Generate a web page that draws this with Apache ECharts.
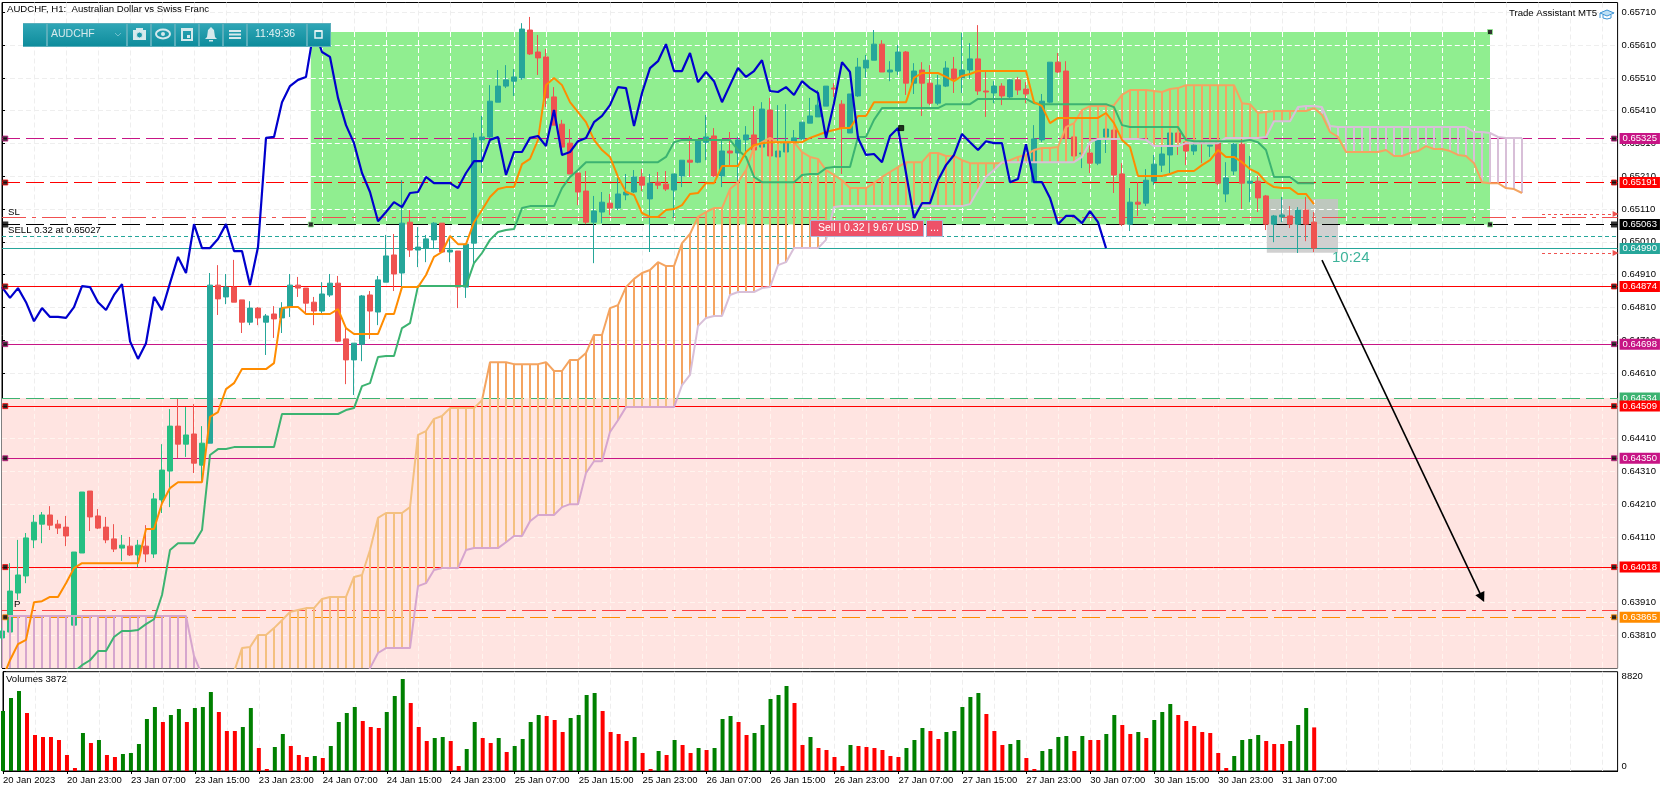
<!DOCTYPE html>
<html>
<head>
<meta charset="utf-8">
<style>html,body{margin:0;padding:0;background:#fff}#c{width:1670px;height:792px}</style>
<script src="https://cdn.jsdelivr.net/npm/echarts@6/dist/echarts.min.js"></script>
</head>
<body>
<div id="c"></div>
<script>
// Prices are kept in points (1 point = 0.00001)
const openPts=[63802,63820,63939,63991,64101,64149,64177,64149,64140,63841,
64061,64250,64174,64140,64104,64076,64082,64055,64082,64058,
64223,64311,64448,64393,64424,64329,64396,64878,64842,64872,
64833,64765,64808,64765,64790,64778,64811,64878,64869,64826,
64799,64848,64884,64714,64650,64698,64848,64796,64887,64970,
64915,65070,64985,64991,65016,65067,64979,64982,64872,65006,
65321,65330,65436,65485,65500,65510,65656,65589,65574,65452,
65369,65311,65220,65165,65070,65101,65128,65113,65153,65162,
65208,65141,65192,65186,65168,65211,65259,65253,65314,65333,
65211,65287,65281,65321,65336,65299,65412,65269,65284,65314,
65324,65372,65391,65424,65479,65430,65342,65455,65540,65564,
65613,65528,65531,65589,65494,65534,65494,65433,65485,65537,
65510,65534,65568,65470,65464,65485,65452,65504,65476,65192,
65321,65436,65558,65531,65330,65278,65281,65250,65330,65351,
65217,65064,65131,65128,65195,65244,65275,65342,65314,65287,
65314,65302,65314,65156,65226,65308,65189,65195,65150,65064,
65086,65089,65064,65107,65070];
const closePts=[63823,63945,63994,64107,64155,64177,64146,64137,64113,64064,
64247,64171,64137,64101,64073,64085,64055,64085,64058,64226,
64314,64448,64393,64421,64335,64396,64878,64836,64872,64826,
64765,64808,64778,64784,64775,64808,64878,64869,64823,64799,
64851,64884,64707,64650,64701,64845,64799,64894,64967,64912,
65067,64985,64994,65019,65067,64979,64985,64872,65003,65327,
65330,65439,65485,65504,65513,65659,65583,65571,65449,65366,
65299,65217,65162,65070,65104,65131,65113,65156,65162,65208,
65183,65189,65183,65171,65217,65259,65253,65321,65330,65211,
65287,65281,65321,65336,65290,65415,65272,65287,65314,65327,
65375,65394,65427,65485,65476,65357,65461,65543,65564,65613,
65528,65534,65589,65494,65531,65494,65433,65488,65540,65507,
65534,65568,65470,65467,65485,65455,65504,65473,65461,65324,
65439,65558,65528,65327,65272,65281,65250,65321,65354,65214,
65064,65131,65125,65198,65247,65278,65342,65314,65287,65305,
65311,65305,65189,65205,65308,65189,65195,65144,65064,65089,
65092,65064,65107,65064,64991];
const lowPts=[63796,63820,63918,63969,64076,64091,64131,64119,64082,63811,
64061,64128,64134,64091,64064,64037,64052,64018,64033,64046,
64183,64201,64351,64354,64305,64277,64396,64787,64820,64826,
64732,64756,64756,64665,64717,64732,64781,64842,64790,64756,
64790,64842,64704,64576,64543,64646,64714,64756,64887,64860,
64872,64964,64933,64948,64988,64979,64948,64808,64839,64945,
65220,65327,65436,65479,65455,65504,65580,65519,65421,65366,
65275,65217,65122,65064,64945,65067,65092,65107,65137,65159,
65165,64979,65171,65165,65083,65177,65208,65250,65259,65208,
65177,65244,65192,65281,65244,65299,65272,65269,65284,65314,
65321,65372,65391,65424,65452,65217,65342,65452,65510,65564,
65528,65500,65519,65458,65461,65394,65427,65427,65482,65464,
65464,65507,65458,65391,65433,65427,65449,65458,65433,65189,
65314,65433,65525,65321,65269,65235,65220,65244,65281,65159,
65058,65043,65089,65119,65183,65223,65220,65275,65244,65275,
65250,65269,65183,65131,65214,65110,65131,65101,65046,65009,
65070,65052,64976,65012,64979];
const highPts=[63832,64030,64101,64122,64177,64186,64204,64162,64174,64064,
64247,64250,64195,64171,64149,64116,64110,64101,64146,64244,
64393,64500,64531,64506,64515,64448,64915,64939,64912,64955,
64833,64829,64811,64790,64814,64826,64912,64903,64869,64842,
64887,64912,64906,64750,64701,64848,64860,64906,65031,65034,
65198,65107,65055,65031,65070,65067,65025,64982,65003,65342,
65394,65488,65534,65549,65537,65677,65696,65641,65598,65482,
65382,65354,65220,65226,65150,65162,65156,65205,65217,65229,
65232,65217,65223,65226,65217,65259,65333,65321,65397,65357,
65321,65345,65330,65363,65424,65436,65449,65427,65430,65351,
65375,65449,65473,65485,65494,65442,65461,65571,65580,65656,
65625,65561,65610,65592,65555,65558,65549,65519,65561,65574,
65647,65616,65671,65531,65500,65494,65507,65513,65497,65366,
65461,65558,65586,65561,65357,65281,65321,65330,65354,65366,
65250,65174,65192,65232,65275,65305,65342,65342,65314,65321,
65314,65305,65321,65253,65311,65327,65272,65211,65153,65092,
65147,65119,65116,65147,65101];
const volumes=[5328,6482,7104,5150,3197,3019,3019,2753,1421,266,
3374,2486,2753,1421,1243,1510,1598,2398,4618,5683,
4351,4973,5506,4351,5594,5683,7015,5239,3552,3552,
3907,5594,2042,178,2131,3286,2220,1421,1243,1332,
1154,2220,4351,5150,5683,4440,3907,3818,5239,6660,
8170,6038,3907,2664,2930,3019,2664,444,1954,4351,
2930,2486,2930,1687,2220,2842,4351,4973,4884,4529,
3463,4706,4973,6749,6926,5328,3463,3286,2664,3019,
1598,178,1776,1421,2753,2309,1598,2042,1865,2042,
4618,4884,4351,3197,3374,4085,6394,6749,7548,6038,
2309,3019,2042,1865,1243,444,2309,2220,2131,2042,
1865,1332,1243,2042,2753,3818,3552,2842,3463,3552,
5683,6571,6926,5062,3552,2309,2398,2753,1154,178,
1776,1954,3019,3108,1776,3108,2753,2753,3286,4973,
4085,3286,3463,2930,4529,5239,5950,4973,4440,3996,
3463,3374,1598,266,1332,2753,2842,3197,2664,2398,
2398,2664,4085,5594,3872];
const tenkan=[63674,63734,63783,63796,63911,63914,63927,63927,63969,64015,
64030,64030,64030,64030,64030,64030,64030,64030,64134,64134,
64213,64259,64277,64277,64277,64277,64476,64491,64561,64579,
64622,64622,64622,64622,64640,64808,64811,64811,64790,64790,
64790,64790,64805,64747,64729,64729,64729,64729,64790,64790,
64872,64872,64872,64909,64964,64979,65028,65003,65003,65070,
65107,65147,65171,65177,65177,65247,65263,65321,65488,65510,
65488,65436,65406,65375,65321,65290,65269,65208,65162,65153,
65098,65086,65086,65107,65110,65122,65156,65159,65189,65189,
65241,65241,65241,65284,65305,65311,65314,65314,65314,65314,
65314,65327,65336,65345,65351,65357,65357,65394,65394,65436,
65436,65436,65436,65436,65510,65525,65525,65525,65513,65500,
65516,65522,65531,65531,65531,65531,65531,65531,65531,65436,
65424,65372,65388,65388,65388,65388,65388,65388,65403,65372,
65321,65299,65211,65211,65211,65211,65217,65226,65226,65226,
65244,65259,65290,65269,65269,65253,65232,65220,65192,65177,
65174,65174,65156,65156,65125];
const kijun=[63650,63650,63650,63650,63650,63650,63650,63650,63650,63698,
63719,63734,63762,63762,63805,63823,63823,63826,63844,63859,
63933,64070,64091,64091,64091,64131,64360,64378,64378,64384,
64384,64384,64384,64384,64384,64485,64485,64485,64485,64485,
64485,64485,64485,64497,64503,64570,64579,64659,64662,64662,
64747,64762,64875,64875,64875,64875,64875,64875,64875,64945,
64976,65016,65040,65046,65049,65113,65119,65119,65119,65119,
65174,65208,65229,65253,65253,65253,65253,65253,65253,65253,
65253,65253,65253,65269,65314,65321,65321,65321,65321,65321,
65321,65321,65290,65269,65208,65192,65192,65192,65192,65192,
65214,65217,65217,65235,65238,65238,65238,65330,65330,65382,
65418,65418,65418,65418,65418,65418,65418,65418,65430,65430,
65430,65430,65446,65446,65446,65446,65446,65446,65446,65433,
65430,65430,65430,65430,65430,65430,65430,65430,65430,65421,
65366,65360,65360,65360,65360,65360,65360,65360,65321,65317,
65317,65317,65317,65317,65317,65317,65321,65314,65290,65208,
65208,65208,65189,65189,65189];
const chikou=[64872,64839,64869,64826,64768,64808,64781,64781,64778,64811,
64875,64872,64826,64802,64848,64881,64707,64653,64701,64842,
64802,64884,64964,64915,65064,64991,64991,65019,65064,64982,
64982,64878,64994,65327,65330,65436,65485,65504,65513,65659,
65589,65574,65449,65366,65311,65220,65162,65073,65101,65131,
65116,65159,65162,65208,65189,65189,65189,65174,65220,65256,
65256,65321,65330,65214,65284,65284,65327,65333,65302,65412,
65275,65284,65317,65327,65375,65394,65427,65482,65479,65363,
65464,65540,65561,65613,65531,65531,65586,65497,65528,65500,
65436,65488,65540,65513,65531,65564,65470,65467,65482,65458,
65500,65479,65464,65327,65433,65558,65528,65327,65275,65278,
65253,65333,65357,65220,65083,65128,65128,65198,65244,65275,
65339,65314,65290,65317,65311,65311,65192,65202,65308,65192,
65192,65144,65064,65089,65089,65067,65104,65070,64991];
const senkouA=[63643,63643,63643,63643,63643,63643,63643,63643,63643,63643,
63643,63643,63643,63643,63643,63643,63643,63643,63643,63643,
63643,63643,63643,63643,63643,63643,63643,63643,63643,63698,
63771,63774,63811,63811,63832,63856,63881,63887,63893,63893,
63921,63927,63927,63927,63988,63994,64070,64168,64183,64183,
64183,64201,64421,64433,64470,64479,64503,64503,64503,64503,
64527,64643,64643,64643,64637,64637,64637,64637,64643,64616,
64616,64650,64650,64671,64726,64726,64808,64817,64872,64897,
64915,64924,64948,64936,64936,65006,65034,65086,65101,65113,
65113,65171,65192,65229,65299,65314,65327,65314,65314,65314,
65284,65269,65263,65229,65214,65198,65174,65174,65174,65189,
65208,65223,65238,65253,65253,65253,65281,65281,65272,65272,
65259,65250,65250,65250,65250,65250,65259,65269,65275,65290,
65296,65296,65299,65360,65372,65412,65424,65424,65424,65427,
65458,65473,65473,65473,65470,65467,65476,65479,65488,65488,
65488,65488,65488,65488,65488,65433,65430,65403,65406,65409,
65409,65409,65409,65409,65418,65397,65345,65330,65284,65284,
65284,65284,65284,65290,65272,65272,65281,65287,65302,65293,
65293,65287,65275,65272,65250,65192,65189,65189,65174,65171,65159];
const senkouB=[63869,63869,63869,63869,63869,63869,63869,63869,63869,63869,
63869,63869,63869,63869,63869,63869,63869,63869,63869,63869,
63869,63869,63869,63869,63747,63689,63643,63643,63643,63643,
63643,63643,63643,63643,63643,63643,63643,63643,63643,63643,
63643,63643,63643,63643,63643,63643,63710,63756,63771,63771,
63771,63771,63960,63969,64009,64015,64015,64015,64070,64076,
64076,64076,64076,64094,64113,64113,64158,64177,64177,64177,
64201,64210,64210,64305,64341,64341,64430,64466,64506,64506,
64506,64506,64506,64506,64506,64573,64604,64753,64778,64784,
64784,64848,64857,64857,64857,64869,64872,64939,64948,64991,
64991,64991,64991,65016,65116,65119,65119,65119,65119,65119,
65119,65119,65119,65119,65119,65119,65119,65119,65119,65119,
65119,65125,65168,65208,65229,65253,65253,65253,65253,65253,
65253,65253,65253,65253,65253,65269,65314,65324,65324,65324,
65324,65324,65324,65321,65302,65302,65302,65302,65311,65311,
65311,65311,65311,65327,65327,65327,65327,65327,65330,65378,
65378,65378,65421,65424,65424,65421,65363,65360,65360,65360,
65360,65360,65360,65360,65360,65360,65360,65360,65360,65360,
65360,65360,65360,65360,65345,65345,65342,65330,65327,65327,65327];
const timeTickLabels=["20 Jan 2023","20 Jan 23:00","23 Jan 07:00","23 Jan 15:00","23 Jan 23:00","24 Jan 07:00","24 Jan 15:00","24 Jan 23:00","25 Jan 07:00","25 Jan 15:00","25 Jan 23:00","26 Jan 07:00","26 Jan 15:00","26 Jan 23:00","27 Jan 07:00","27 Jan 15:00","27 Jan 23:00","30 Jan 07:00","30 Jan 15:00","30 Jan 23:00","31 Jan 07:00"];
const levelPrices=[0.65325,0.65191,0.65085,0.65063,0.65027,0.64990,0.64874,0.64698,0.64534,0.64509,0.64350,0.64018,0.63886,0.63865];

const FONT='"Liberation Sans",Arial,sans-serif';
const TICK=9.5;
const X_MAX=201.95, PRICE_MIN=0.6371, PRICE_MAX=0.6574, VOL_MAX=8820;
const MAGENTA='#C71585',RED='#FF0000',TEAL='#26A69A',SEA='#3CB371',ORANGE='#FF8C00';
const LONG=[18,6], DASHDOT=[24,6,4,6], DOT=[4,3];
const levelStyles=[
 {c:MAGENTA,d:LONG,tag:1,h:1},{c:RED,d:LONG,tag:1,h:1},{c:'#F05050',d:DASHDOT},{c:'#000',d:LONG,tag:1,h:2},
 {c:TEAL,d:DOT},{c:TEAL,d:'solid',tag:1},{c:RED,d:'solid',tag:1,h:1},{c:MAGENTA,d:'solid',tag:1,h:1},
 {c:SEA,d:LONG,tag:1},{c:RED,d:'solid',tag:1,h:1},{c:MAGENTA,d:'solid',tag:1,h:1},{c:RED,d:'solid',tag:1,h:1},
 {c:'#FF4040',d:DASHDOT},{c:ORANGE,d:LONG,tag:1,h:1}];
const p=v=>v/100000;

const UP='#26A69A',UP_PINK='#26BF82',DOWN='#EF5350';
const candleData=openPts.map((o,i)=>{
  const up=closePts[i]>=o, col=up?(i<26?UP_PINK:UP):DOWN;
  return {value:[i,p(o),p(closePts[i]),p(lowPts[i]),p(highPts[i])],itemStyle:{color:col,color0:col,borderColor:col,borderColor0:col}};
});
const volData=volumes.map((v,i)=>({value:[i,v],itemStyle:{color:(i===0||v>volumes[i-1])?'#008000':'#FF0000'}}));
const line=a=>a.map((v,i)=>[i,p(v)]);
const timeTickValues=timeTickLabels.map((_,k)=>k*8);

// rectangles drawn on the price panel
const PINK_TOP=0.64534;
const GREEN_RECT=[38.6,186,0.6565,0.65063];
const GREY_RECT=[158.1,167,0.65141,0.64977];
const rectAreas=[
 [{xAxis:0,yAxis:PINK_TOP,itemStyle:{color:'#FFE4E1',opacity:1}},{xAxis:X_MAX,yAxis:PRICE_MIN}],
 [{xAxis:GREEN_RECT[0],yAxis:GREEN_RECT[2],itemStyle:{color:'#90EE90',opacity:1}},{xAxis:GREEN_RECT[1],yAxis:GREEN_RECT[3]}],
 [{xAxis:GREY_RECT[0],yAxis:GREY_RECT[2],itemStyle:{color:'#BEC8BE',opacity:1}},{xAxis:GREY_RECT[1],yAxis:0.65063}],
 [{xAxis:GREY_RECT[0],yAxis:0.65063,itemStyle:{color:'#D0D0D0',opacity:1}},{xAxis:GREY_RECT[1],yAxis:GREY_RECT[3]}]
];
// grid dashes that show lighter on top of the rectangles
const overGrid=[];
function addOver(x0,x1,y0,y1,col){
  for(let x=0;x<=X_MAX;x+=4){ if(x>x0&&x<x1) overGrid.push([{coord:[x,y0],lineStyle:{color:col}},{coord:[x,y1]}]); }
  for(let k=1;k<21;k++){ const y=+(PRICE_MIN+k*0.001).toFixed(5); if(y<y0&&y>y1) overGrid.push([{coord:[x0,y],lineStyle:{color:col}},{coord:[x1,y]}]); }
}
addOver(GREEN_RECT[0],GREEN_RECT[1],GREEN_RECT[2],GREEN_RECT[3],'#FFFFFF');
addOver(0,X_MAX,PINK_TOP,PRICE_MIN,'#FFF4EE');

const levelLines=levelPrices.map((v,i)=>{
  const s=levelStyles[i];
  return {yAxis:v,lineStyle:{color:s.c,type:s.d,width:1},
    label:s.tag?{show:true,position:'end',distance:2,formatter:v.toFixed(5),color:'#fff',backgroundColor:s.c,padding:[1,3,0,3],fontFamily:FONT,fontSize:TICK}:{show:false}};
});
const handles=[];
levelPrices.forEach((v,i)=>{
  const s=levelStyles[i]; if(!s.h) return;
  const big=s.h===2;
  [0.41,201.5].forEach(x=>handles.push({value:[x,v],symbolSize:big?6:5,itemStyle:{color:'#000',borderColor:big?'#000':s.c,borderWidth:big?0:1}}));
});
[[38.6,0.65063],[186,0.6565],[186,0.65063],[112.4,0.65357]].forEach((a,i)=>handles.push({value:a,symbolSize:5,itemStyle:{color:'#000',borderColor:i===3?'#000':'#90EE90',borderWidth:1}}));

// toolbar and annotation overlays
const TB=[{x:23,w:23},{x:48,w:78},{x:128,w:22},{x:152,w:22},{x:176,w:22},{x:200,w:22},{x:224,w:22},{x:248,w:58},{x:308,w:22}];
const grad={type:'linear',x:0,y:0,x2:0,y2:1,colorStops:[{offset:0,color:'#2FA6B6'},{offset:1,color:'#0E8C9C'}]};
const ICON='#D6E9EC';
const txt=(t,x,y,o)=>Object.assign({type:'text',z:100,silent:true,x,y,style:Object.assign({text:t,fill:'#000',font:'9.6px '+FONT,textVerticalAlign:'middle',verticalAlign:'middle'},o||{})},{});
const shape=(type,sh,st)=>({type,z:101,silent:true,shape:sh,style:st});
const gfx=[shape('rect',{x:23,y:23,width:308,height:24},{fill:'#5AAEBB'})];
TB.forEach(b=>gfx.push(shape('rect',{x:b.x,y:24,width:b.w,height:22},{fill:grad})));
gfx.push(txt('AUDCHF',51,34,{fill:'#D6E9EC',font:'10.5px '+FONT}));
gfx[gfx.length-1].z=102;
gfx.push(txt('11:49:36',255,34,{fill:'#E4F2F4',font:'10.5px '+FONT}));
gfx[gfx.length-1].z=102;
const I=[
 shape('polyline',{points:[[115,33],[118,36],[121,33]]},{fill:'none',stroke:'#6FBFCB',lineWidth:1}),
 shape('rect',{x:133,y:30,width:13,height:10},{fill:ICON}),
 shape('rect',{x:136,y:28,width:7,height:3},{fill:ICON}),
 shape('circle',{cx:139.5,cy:35,r:3},{fill:'#1C98A8',stroke:ICON,lineWidth:1}),
 shape('ellipse',{cx:163,cy:34,rx:7,ry:4.5},{fill:'none',stroke:ICON,lineWidth:2}),
 shape('circle',{cx:163,cy:34,r:2},{fill:ICON}),
 shape('rect',{x:182,y:30,width:10,height:10},{fill:'none',stroke:ICON,lineWidth:2}),
 shape('rect',{x:181,y:28,width:12,height:3},{fill:ICON}),
 shape('rect',{x:187,y:35,width:3,height:3},{fill:ICON}),
 shape('polygon',{points:[[211,27],[214,30],[215,37],[217,39],[205,39],[207,37],[208,30]]},{fill:ICON}),
 shape('rect',{x:209,y:40,width:4,height:1.5},{fill:ICON}),
 shape('rect',{x:229,y:30,width:12,height:2},{fill:ICON}),
 shape('rect',{x:229,y:33.5,width:12,height:2},{fill:ICON}),
 shape('rect',{x:229,y:37,width:12,height:2},{fill:ICON}),
 shape('rect',{x:315,y:31,width:7,height:7},{fill:'none',stroke:'#E4F2F4',lineWidth:1.5}),
 shape('rect',{x:315,y:30,width:7,height:2},{fill:'#E4F2F4'})
];
I.forEach(s=>{s.z=102;gfx.push(s);});
gfx.push(
 txt('AUDCHF, H1:  Australian Dollar vs Swiss Franc',7,9),
 txt('Trade Assistant MT5',1509,13),
 txt('SL',8,212),
 txt('SELL 0.32 at 0.65027',8,230),
 txt('P',14,604),
 txt('Volumes 3872',6,679),
 txt('10:24',1332,258,{fill:'#3DB39A',font:'15px '+FONT}),
 shape('rect',{x:810.5,y:220.5,width:113,height:16},{fill:'#EE5168',stroke:'#A9B9D8',lineWidth:1}),
 shape('rect',{x:926.5,y:220.5,width:16,height:16},{fill:'#EE5168',stroke:'#A9B9D8',lineWidth:1}),
 Object.assign(txt('Sell | 0.32 | 9.67 USD',818,228.5,{fill:'#fff',font:'10.5px '+FONT}),{z:102}),
 Object.assign(txt('...',930,228,{fill:'#fff',font:'11px '+FONT}),{z:102}),
 shape('polygon',{points:[[1600,13],[1607,10],[1614,13],[1607,16]]},{fill:'#BFE0F5',stroke:'#3D94D6',lineWidth:1}),
 shape('polyline',{points:[[1603,15],[1603,18],[1607,19],[1611,18],[1611,15]]},{fill:'none',stroke:'#3D94D6',lineWidth:1}),
 shape('polyline',{points:[[1600,13],[1600,18]]},{fill:'none',stroke:'#3D94D6',lineWidth:1})
);

const chart=echarts.init(document.getElementById('c'),null,{renderer:'canvas'});
const labelStyle={fontFamily:FONT,fontSize:TICK,color:'#000'};
const gridDash={color:'#EEEEEE',type:[5,3],width:1};
chart.setOption({
 animation:false,
 backgroundColor:'#fff',
 textStyle:{fontFamily:FONT},
 graphic:{elements:gfx},
 grid:[
  {left:2,right:52.4,top:2.5,height:665.6,show:true,borderColor:'#000',borderWidth:1,backgroundColor:'#fff'},
  {left:2,right:52.4,top:671.7,height:99.3,show:true,borderColor:'#000',borderWidth:1,backgroundColor:'#fff'}
 ],
 xAxis:[
  {type:'value',gridIndex:0,min:0,max:X_MAX,interval:4,axisLine:{show:false},axisTick:{show:false},axisLabel:{show:false},
   splitLine:{show:true,showMinLine:false,showMaxLine:false,lineStyle:gridDash}},
  {type:'value',gridIndex:1,position:'bottom',min:0,max:X_MAX,interval:4,axisLine:{show:false},axisTick:{show:false},axisLabel:{show:false},
   splitLine:{show:true,showMinLine:false,showMaxLine:false,lineStyle:gridDash}},
  {type:'value',gridIndex:1,position:'bottom',min:0,max:X_MAX,interval:8,splitLine:{show:false},
   axisLine:{show:true,onZero:false,lineStyle:{color:'#000'}},axisTick:{show:true,length:3,customValues:timeTickValues,lineStyle:{color:'#000'}},
   axisLabel:Object.assign({show:true,margin:4,align:'left',hideOverlap:false,customValues:timeTickValues,
     formatter:v=>timeTickLabels[v/8]||''},labelStyle)}
 ],
 yAxis:[
  {type:'value',gridIndex:0,position:'right',min:PRICE_MIN,max:PRICE_MAX,interval:0.001,
   axisLine:{show:true,lineStyle:{color:'#000'}},axisTick:{show:true,length:3,lineStyle:{color:'#000'}},
   axisLabel:Object.assign({margin:4,hideOverlap:false,formatter:v=>(v>0.6572||v<0.6375)?'':v.toFixed(5)},labelStyle),
   splitLine:{show:true,showMinLine:false,showMaxLine:false,lineStyle:gridDash}},
  {type:'value',gridIndex:1,position:'right',min:0,max:VOL_MAX,interval:VOL_MAX,
   axisLine:{show:true,lineStyle:{color:'#000'}},axisTick:{show:true,length:3,lineStyle:{color:'#000'}},
   axisLabel:Object.assign({margin:4,verticalAlignMinLabel:'bottom',verticalAlignMaxLabel:'top',formatter:v=>String(v)},labelStyle),
   splitLine:{show:false}}
 ],
 visualMap:[
  {show:false,type:'piecewise',seriesIndex:6,dimension:1,pieces:[{min:0.6,max:PINK_TOP,color:'#F4C080'},{min:PINK_TOP,max:0.7,color:'#F4A460'}]},
  {show:false,type:'piecewise',seriesIndex:7,dimension:1,pieces:[{min:0.6,max:PINK_TOP,color:'#D6A6CE'},{min:PINK_TOP,max:0.7,color:'#D8BFD8'}]}
 ],
 series:[
  {name:'rects',type:'line',z:1,silent:true,data:[],xAxisIndex:0,yAxisIndex:0,markArea:{silent:true,z:1,data:rectAreas}},
  {name:'overGrid',type:'line',z:1,silent:true,data:[],xAxisIndex:0,yAxisIndex:0,
    markLine:{silent:true,z:1,symbol:'none',label:{show:false},lineStyle:{type:[5,3],width:1},data:overGrid}},
  {name:'levels',type:'line',z:2,silent:true,data:[],xAxisIndex:0,yAxisIndex:0,
    markLine:{silent:true,z:2,symbol:'none',precision:5,data:levelLines}},
  {name:'price',type:'candlestick',z:3,xAxisIndex:0,yAxisIndex:0,barWidth:5,silent:true,itemStyle:{borderWidth:1},data:candleData},
  {name:'cloud',type:'custom',z:4,xAxisIndex:0,yAxisIndex:0,silent:true,clip:true,
    data:senkouA.map((a,i)=>[i,p(a),p(senkouB[i])]),encode:{x:0,y:[1,2]},
    renderItem:(params,api)=>{
      const i=api.value(0),a=api.value(1),b=api.value(2);
      const top=Math.max(a,b), bot=Math.max(Math.min(a,b),PRICE_MIN);
      if(top<=bot) return null;
      const isA=a>=b, children=[];
      const seg=(v1,v2,c)=>{
        const s=api.coord([i,v1]),e=api.coord([i,v2]);
        children.push({type:'line',shape:{x1:s[0],y1:s[1],x2:e[0],y2:e[1]},style:{stroke:c,lineWidth:2}});
      };
      if(top>PINK_TOP) seg(top,Math.max(bot,PINK_TOP),isA?'#F4A460':'#D8BFD8');
      if(bot<PINK_TOP) seg(Math.min(top,PINK_TOP),bot,isA?'#F4C080':'#D6A6CE');
      return {type:'group',children};
    }},
  {name:'handles',type:'scatter',z:8,xAxisIndex:0,yAxisIndex:0,symbol:'rect',silent:true,clip:false,data:handles},
  {name:'senkouA',type:'line',z:5,xAxisIndex:0,yAxisIndex:0,silent:true,showSymbol:false,lineStyle:{width:2},data:line(senkouA)},
  {name:'senkouB',type:'line',z:5,xAxisIndex:0,yAxisIndex:0,silent:true,showSymbol:false,lineStyle:{width:2},data:line(senkouB)},
  {name:'kijun',type:'line',z:6,xAxisIndex:0,yAxisIndex:0,silent:true,showSymbol:false,lineStyle:{width:2,color:'#3CB371'},data:line(kijun)},
  {name:'tenkan',type:'line',z:6,xAxisIndex:0,yAxisIndex:0,silent:true,showSymbol:false,lineStyle:{width:2,color:'#FF8C00'},data:line(tenkan)},
  {name:'chikou',type:'line',z:7,xAxisIndex:0,yAxisIndex:0,silent:true,showSymbol:false,lineStyle:{width:2.2,color:'#0000CD'},data:line(chikou)},
  {name:'arrows',type:'line',z:7,xAxisIndex:0,yAxisIndex:0,silent:true,data:[],
    markLine:{silent:true,z:7,label:{show:false},data:[
      [{coord:[165,0.64954],symbol:'none',lineStyle:{color:'#000',width:1.6,type:'solid'}},{coord:[185,0.63925],symbol:'triangle',symbolSize:10}],
      [{coord:[192.5,0.65095],symbol:'none',lineStyle:{color:'#EF5350',width:1,type:[3,3]}},{coord:[201.7,0.65095],symbol:'triangle',symbolSize:6}],
      [{coord:[192.5,0.64976],symbol:'none',lineStyle:{color:'#EF5350',width:1,type:[3,3]}},{coord:[201.7,0.64976],symbol:'triangle',symbolSize:6}]
    ]}},
  {name:'volumes',type:'bar',xAxisIndex:1,yAxisIndex:1,barWidth:4,silent:true,data:volData}
 ]
});
</script>
</body>
</html>
